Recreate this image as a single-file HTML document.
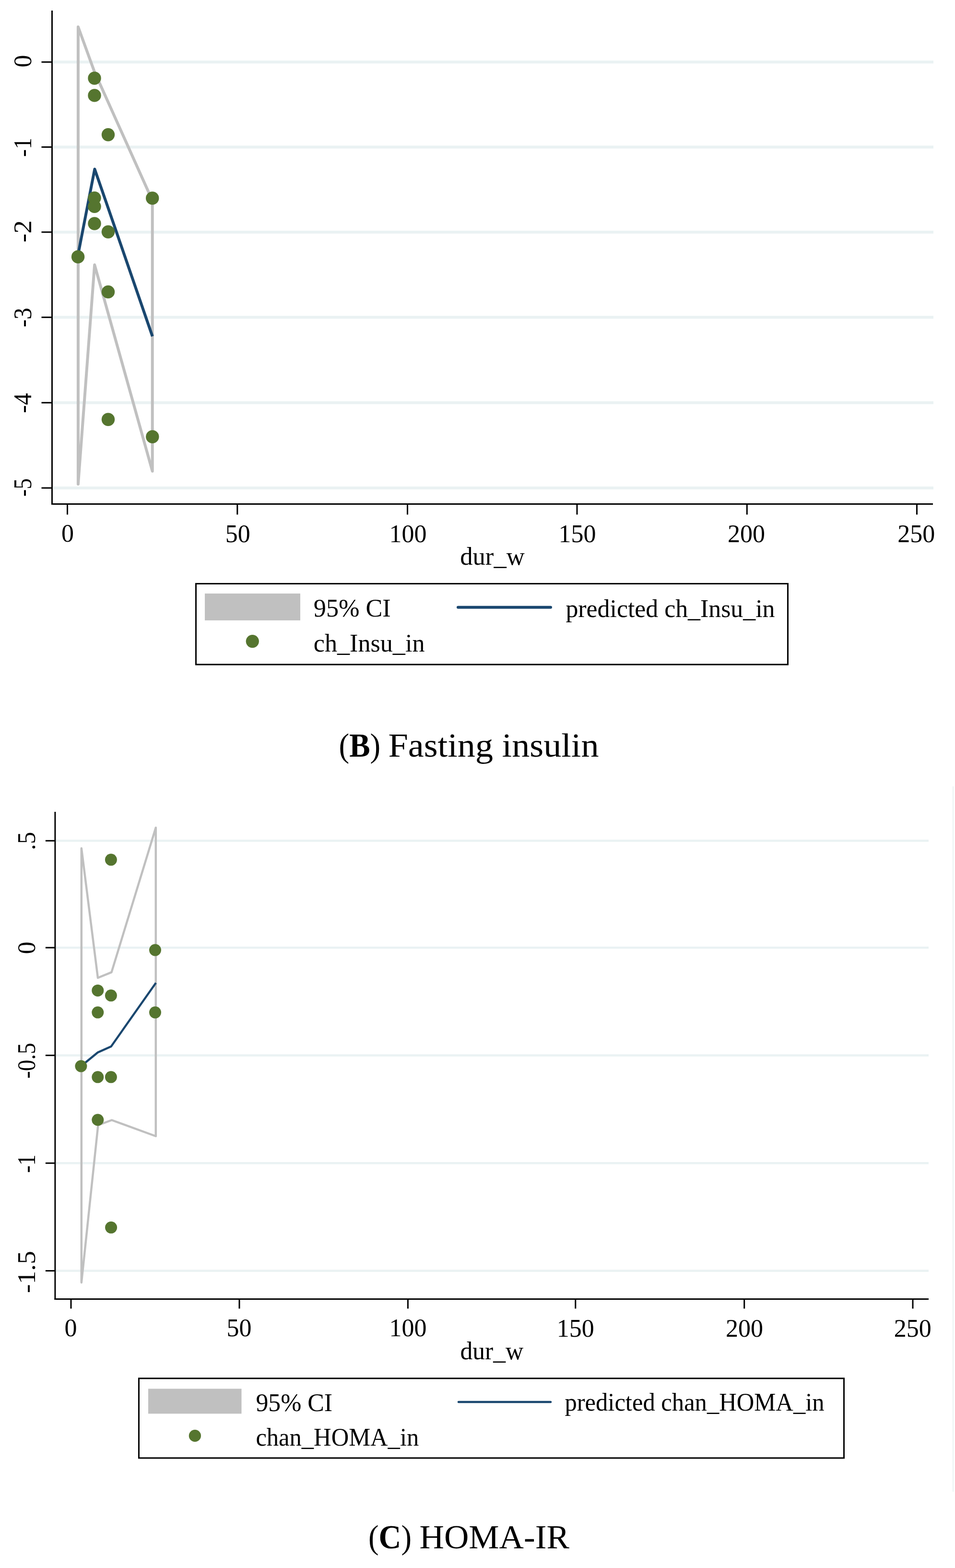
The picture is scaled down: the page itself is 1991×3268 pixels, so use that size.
<!DOCTYPE html>
<html><head><meta charset="utf-8"><title>Fasting insulin and HOMA-IR meta-regression</title>
<style>
html,body{margin:0;padding:0;background:#fff;}
body{width:1991px;height:3268px;overflow:hidden;}
svg{display:block;}
text{font-family:'Liberation Serif', 'Times New Roman', serif;fill:#000;}
</style></head><body>
<svg width="1991" height="3268" viewBox="0 0 1991 3268">
<rect x="0" y="0" width="1991" height="3268" fill="#fff"/>
<rect x="110" y="126.30" width="1836" height="6" fill="#eaf2f3"/>
<rect x="110" y="303.50" width="1836" height="6" fill="#eaf2f3"/>
<rect x="110" y="480.80" width="1836" height="6" fill="#eaf2f3"/>
<rect x="110" y="658.30" width="1836" height="6" fill="#eaf2f3"/>
<rect x="110" y="836.30" width="1836" height="6" fill="#eaf2f3"/>
<rect x="110" y="1014.00" width="1836" height="6" fill="#eaf2f3"/>
<polygon points="162.9,56.0 196.5,148.5 225.3,212.6 317.7,418.0 317.7,982.0 225.5,653.0 197.2,552.0 162.9,1009.0" fill="none" stroke="#c0c0c0" stroke-width="6" stroke-linejoin="round"/>
<polyline points="161.8,535.5 197.4,352.5 225.5,433.5 317.8,701.0" fill="none" stroke="#1a476f" stroke-width="6" stroke-linejoin="round"/>
<circle cx="197.0" cy="163.0" r="13.7" fill="#55752f"/>
<circle cx="197.0" cy="198.9" r="13.7" fill="#55752f"/>
<circle cx="225.5" cy="280.8" r="13.7" fill="#55752f"/>
<circle cx="317.7" cy="413.0" r="13.7" fill="#55752f"/>
<circle cx="197.0" cy="412.6" r="13.7" fill="#55752f"/>
<circle cx="197.0" cy="430.4" r="13.7" fill="#55752f"/>
<circle cx="197.0" cy="466.0" r="13.7" fill="#55752f"/>
<circle cx="225.5" cy="483.3" r="13.7" fill="#55752f"/>
<circle cx="162.6" cy="535.2" r="13.7" fill="#55752f"/>
<circle cx="225.5" cy="608.4" r="13.7" fill="#55752f"/>
<circle cx="225.5" cy="874.2" r="13.7" fill="#55752f"/>
<circle cx="317.8" cy="910.3" r="13.7" fill="#55752f"/>
<line x1="108.5" y1="22" x2="108.5" y2="1052" stroke="#000" stroke-width="3"/>
<line x1="107" y1="1050.5" x2="1945" y2="1050.5" stroke="#000" stroke-width="3"/>
<line x1="86.5" y1="129.3" x2="108.5" y2="129.3" stroke="#000" stroke-width="3"/>
<line x1="86.5" y1="306.5" x2="108.5" y2="306.5" stroke="#000" stroke-width="3"/>
<line x1="86.5" y1="483.8" x2="108.5" y2="483.8" stroke="#000" stroke-width="3"/>
<line x1="86.5" y1="661.3" x2="108.5" y2="661.3" stroke="#000" stroke-width="3"/>
<line x1="86.5" y1="839.3" x2="108.5" y2="839.3" stroke="#000" stroke-width="3"/>
<line x1="86.5" y1="1017" x2="108.5" y2="1017" stroke="#000" stroke-width="3"/>
<line x1="140.5" y1="1050.5" x2="140.5" y2="1072.5" stroke="#000" stroke-width="3"/>
<line x1="494.8" y1="1050.5" x2="494.8" y2="1072.5" stroke="#000" stroke-width="3"/>
<line x1="849.5" y1="1050.5" x2="849.5" y2="1072.5" stroke="#000" stroke-width="3"/>
<line x1="1203" y1="1050.5" x2="1203" y2="1072.5" stroke="#000" stroke-width="3"/>
<line x1="1557.3" y1="1050.5" x2="1557.3" y2="1072.5" stroke="#000" stroke-width="3"/>
<line x1="1911.5" y1="1050.5" x2="1911.5" y2="1072.5" stroke="#000" stroke-width="3"/>
<text transform="translate(65.40,127.60) rotate(-90)" font-size="52.00" text-anchor="middle">0</text>
<text transform="translate(65.40,307.00) rotate(-90)" font-size="52.00" text-anchor="middle" textLength="39.91" lengthAdjust="spacingAndGlyphs">-1</text>
<text transform="translate(65.00,482.20) rotate(-90)" font-size="52.00" text-anchor="middle" textLength="46.09" lengthAdjust="spacingAndGlyphs">-2</text>
<text transform="translate(65.00,661.80) rotate(-90)" font-size="52.00" text-anchor="middle" textLength="40.48" lengthAdjust="spacingAndGlyphs">-3</text>
<text transform="translate(65.40,840.10) rotate(-90)" font-size="52.00" text-anchor="middle" textLength="41.63" lengthAdjust="spacingAndGlyphs">-4</text>
<text transform="translate(65.00,1015.90) rotate(-90)" font-size="52.00" text-anchor="middle" textLength="37.98" lengthAdjust="spacingAndGlyphs">-5</text>
<text x="141.00" y="1128.60" font-size="52.00" text-anchor="middle">0</text>
<text x="495.70" y="1129.80" font-size="52.00" text-anchor="middle">50</text>
<text x="850.60" y="1129.80" font-size="52.00" text-anchor="middle">100</text>
<text x="1203.50" y="1129.80" font-size="52.00" text-anchor="middle">150</text>
<text x="1556.00" y="1129.80" font-size="52.00" text-anchor="middle">200</text>
<text x="1910.20" y="1129.80" font-size="52.00" text-anchor="middle">250</text>
<text x="1026.50" y="1176.60" font-size="52.00" text-anchor="middle" textLength="134.51" lengthAdjust="spacingAndGlyphs">dur_w</text>
<rect x="408.5" y="1216.5" width="1234" height="168.5" fill="none" stroke="#000" stroke-width="3"/>
<rect x="427" y="1237" width="199" height="56" fill="#c0c0c0"/>
<line x1="955" y1="1265.8" x2="1148" y2="1265.8" stroke="#1a476f" stroke-width="6" stroke-linecap="round"/>
<circle cx="526.3" cy="1336.6" r="13.6" fill="#55752f"/>
<text x="653.80" y="1285.40" font-size="52.00" textLength="160.95" lengthAdjust="spacingAndGlyphs">95% CI</text>
<text x="1179.40" y="1285.60" font-size="52.00" textLength="436.13" lengthAdjust="spacingAndGlyphs">predicted ch_Insu_in</text>
<text x="653.80" y="1358.00" font-size="52.00" textLength="231.71" lengthAdjust="spacingAndGlyphs">ch_Insu_in</text>
<text x="706.50" y="1577.00" font-size="69.00" textLength="86.66" lengthAdjust="spacingAndGlyphs">(<tspan font-weight="bold">B</tspan>)</text>
<text x="809.50" y="1577.00" font-size="69.00" textLength="439.06" lengthAdjust="spacingAndGlyphs">Fasting insulin</text>
<rect x="116.5" y="1750.05" width="1819.5" height="4.5" fill="#eaf2f3"/>
<rect x="116.5" y="1972.85" width="1819.5" height="4.5" fill="#eaf2f3"/>
<rect x="116.5" y="2197.35" width="1819.5" height="4.5" fill="#eaf2f3"/>
<rect x="116.5" y="2421.95" width="1819.5" height="4.5" fill="#eaf2f3"/>
<rect x="116.5" y="2646.35" width="1819.5" height="4.5" fill="#eaf2f3"/>
<polygon points="169.8,1768.0 204.0,2038.0 232.5,2026.3 324.8,1725.0 324.8,2368.0 233.0,2334.5 204.5,2345.0 169.8,2673.0" fill="none" stroke="#c0c0c0" stroke-width="4.5" stroke-linejoin="round"/>
<polyline points="169.0,2222.0 203.8,2193.5 231.7,2181.0 325.0,2048.5" fill="none" stroke="#1a476f" stroke-width="4.3" stroke-linejoin="round"/>
<circle cx="231.4" cy="1791.8" r="12.5" fill="#55752f"/>
<circle cx="323.5" cy="1980.1" r="12.5" fill="#55752f"/>
<circle cx="203.8" cy="2064.4" r="12.5" fill="#55752f"/>
<circle cx="231.4" cy="2074.8" r="12.5" fill="#55752f"/>
<circle cx="203.8" cy="2110.1" r="12.5" fill="#55752f"/>
<circle cx="323.5" cy="2110.1" r="12.5" fill="#55752f"/>
<circle cx="168.9" cy="2222.1" r="12.5" fill="#55752f"/>
<circle cx="203.8" cy="2244.8" r="12.5" fill="#55752f"/>
<circle cx="231.4" cy="2244.8" r="12.5" fill="#55752f"/>
<circle cx="203.8" cy="2334.0" r="12.5" fill="#55752f"/>
<circle cx="231.6" cy="2558.3" r="12.5" fill="#55752f"/>
<line x1="114.9" y1="1692" x2="114.9" y2="2709" stroke="#000" stroke-width="3"/>
<line x1="113.5" y1="2707.4" x2="1936" y2="2707.4" stroke="#000" stroke-width="3"/>
<line x1="94.9" y1="1752.3" x2="114.9" y2="1752.3" stroke="#000" stroke-width="3"/>
<line x1="94.9" y1="1975.1" x2="114.9" y2="1975.1" stroke="#000" stroke-width="3"/>
<line x1="94.9" y1="2199.6" x2="114.9" y2="2199.6" stroke="#000" stroke-width="3"/>
<line x1="94.9" y1="2424.2" x2="114.9" y2="2424.2" stroke="#000" stroke-width="3"/>
<line x1="94.9" y1="2648.6" x2="114.9" y2="2648.6" stroke="#000" stroke-width="3"/>
<line x1="148" y1="2707.4" x2="148" y2="2727.4" stroke="#000" stroke-width="3"/>
<line x1="499" y1="2707.4" x2="499" y2="2727.4" stroke="#000" stroke-width="3"/>
<line x1="850.4" y1="2707.4" x2="850.4" y2="2727.4" stroke="#000" stroke-width="3"/>
<line x1="1199.8" y1="2707.4" x2="1199.8" y2="2727.4" stroke="#000" stroke-width="3"/>
<line x1="1551.7" y1="2707.4" x2="1551.7" y2="2727.4" stroke="#000" stroke-width="3"/>
<line x1="1903" y1="2707.4" x2="1903" y2="2727.4" stroke="#000" stroke-width="3"/>
<text transform="translate(72.60,1752.80) rotate(-90)" font-size="52.00" text-anchor="middle" textLength="37.82" lengthAdjust="spacingAndGlyphs">.5</text>
<text transform="translate(73.20,1975.40) rotate(-90)" font-size="52.00" text-anchor="middle">0</text>
<text transform="translate(73.20,2210.80) rotate(-90)" font-size="52.00" text-anchor="middle" textLength="74.35" lengthAdjust="spacingAndGlyphs">-0.5</text>
<text transform="translate(73.00,2425.30) rotate(-90)" font-size="52.00" text-anchor="middle" textLength="38.59" lengthAdjust="spacingAndGlyphs">-1</text>
<text transform="translate(73.00,2651.00) rotate(-90)" font-size="52.00" text-anchor="middle" textLength="87.82" lengthAdjust="spacingAndGlyphs">-1.5</text>
<text x="147.60" y="2785.40" font-size="52.00" text-anchor="middle">0</text>
<text x="498.60" y="2785.20" font-size="52.00" text-anchor="middle">50</text>
<text x="850.60" y="2785.20" font-size="52.00" text-anchor="middle">100</text>
<text x="1199.80" y="2785.80" font-size="52.00" text-anchor="middle">150</text>
<text x="1552.10" y="2785.80" font-size="52.00" text-anchor="middle">200</text>
<text x="1902.80" y="2785.80" font-size="52.00" text-anchor="middle">250</text>
<text x="1025.40" y="2833.40" font-size="52.00" text-anchor="middle" textLength="131.66" lengthAdjust="spacingAndGlyphs">dur_w</text>
<rect x="289.5" y="2872.8" width="1470" height="166" fill="none" stroke="#000" stroke-width="3"/>
<rect x="309" y="2894.4" width="194.5" height="52" fill="#c0c0c0"/>
<line x1="956" y1="2922" x2="1148" y2="2922" stroke="#1a476f" stroke-width="4.5" stroke-linecap="round"/>
<circle cx="406.4" cy="2992.4" r="12.6" fill="#55752f"/>
<text x="533.40" y="2941.40" font-size="52.00" textLength="159.73" lengthAdjust="spacingAndGlyphs">95% CI</text>
<text x="1177.40" y="2940.40" font-size="52.00" textLength="541.21" lengthAdjust="spacingAndGlyphs">predicted chan_HOMA_in</text>
<text x="533.40" y="3013.00" font-size="52.00" textLength="339.85" lengthAdjust="spacingAndGlyphs">chan_HOMA_in</text>
<text x="768.00" y="3226.80" font-size="69.00" textLength="89.96" lengthAdjust="spacingAndGlyphs">(<tspan font-weight="bold">C</tspan>)</text>
<text x="874.50" y="3226.80" font-size="69.00" textLength="312.39" lengthAdjust="spacingAndGlyphs">HOMA-IR</text>
<rect x="1986" y="1639" width="2" height="1470" fill="#eaf2f3"/>
</svg>
</body></html>
